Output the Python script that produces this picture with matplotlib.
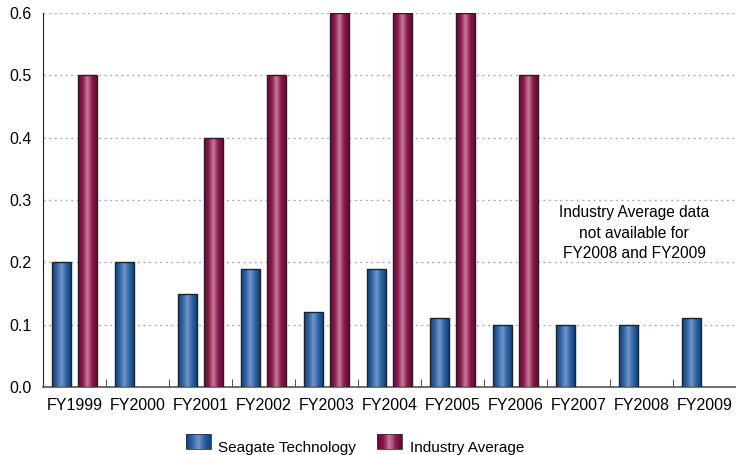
import numpy as np
import matplotlib
matplotlib.use("Agg")
import matplotlib.pyplot as plt
from matplotlib.patches import Rectangle
from matplotlib.legend_handler import HandlerBase
from matplotlib.colors import LinearSegmentedColormap

years = ["FY1999", "FY2000", "FY2001", "FY2002", "FY2003", "FY2004",
         "FY2005", "FY2006", "FY2007", "FY2008", "FY2009"]
seagate = [0.20, 0.20, 0.15, 0.19, 0.12, 0.19, 0.11, 0.10, 0.10, 0.10, 0.11]
industry = [0.50, None, 0.40, 0.50, 0.60, 0.60, 0.60, 0.50, None, None, None]

plt.rcParams['font.family'] = ['Liberation Sans', 'DejaVu Sans']

blue_cm = LinearSegmentedColormap.from_list(
    "b", ["#0a4683", "#2f64a3", "#7596c8", "#2f64a3", "#0a4683"])
red_cm = LinearSegmentedColormap.from_list(
    "r", ["#6e0535", "#8a1a4c", "#c87f9c", "#8a1a4c", "#6e0535"])
grad = np.linspace(0, 1, 64).reshape(1, -1)

fig = plt.figure(figsize=(7.36, 4.55), dpi=100)
ax = fig.add_axes([43 / 736, 1 - 387 / 455, 1 - 43 / 736, 374 / 455])

w = 0.30
off = 0.20


def grad_bar(x, h, cmap):
    r = Rectangle((x - w / 2, 0), w, h, facecolor="none",
                  edgecolor="#222222", lw=1.0, zorder=4)
    ax.add_patch(r)
    im = ax.imshow(grad, cmap=cmap, aspect="auto",
                   extent=(x - w / 2, x + w / 2, 0, h), zorder=3)
    im.set_clip_path(r)


for i in range(len(years)):
    grad_bar(i - off, seagate[i], blue_cm)
    if industry[i] is not None:
        grad_bar(i + off, industry[i], red_cm)

ax.set_xlim(-0.5, len(years) - 0.5)
ax.set_ylim(0, 0.6)
ax.set_xticks(range(len(years)))
ax.set_xticklabels(years, fontsize=11.5)
ax.set_xticks(np.arange(0.5, len(years) - 1, 1), minor=True)
ax.tick_params(axis="x", which="major", length=0, pad=8)
ax.tick_params(axis="x", which="minor", direction="in", length=6,
               color="#333333")
ax.set_yticks(np.arange(0, 0.61, 0.1))
ax.set_yticklabels(["%.1f" % v for v in np.arange(0, 0.61, 0.1)], fontsize=11.5)
ax.tick_params(axis="y", length=0, pad=8)
for v in np.arange(0.1, 0.61, 0.1):
    ax.axhline(v, color="#b0b0b0", lw=1, ls=(0, (1.5, 2.5)), zorder=1)
for s in ["top", "right"]:
    ax.spines[s].set_visible(False)
ax.spines["left"].set_color("#222222")
ax.spines["bottom"].set_color("#555555")
ax.spines["bottom"].set_linewidth(1.2)

ax.text(8.88, 0.247, "Industry Average data\nnot available for\nFY2008 and FY2009",
        ha="center", va="center", fontsize=11.2, linespacing=1.45, zorder=5)


class HandlerGrad(HandlerBase):
    def __init__(self, cmap):
        super().__init__()
        self.cmap = cmap

    def create_artists(self, legend, orig_handle, xd, yd, width, height,
                       fontsize, trans):
        arts = []
        n = 16
        for k in range(n):
            arts.append(Rectangle((xd + width * k / n, yd), width / n + 0.3,
                                  height, facecolor=self.cmap((k + 0.5) / n),
                                  edgecolor="none", transform=trans))
        arts.append(Rectangle((xd, yd), width, height, facecolor="none",
                              edgecolor="#333333", lw=0.6, transform=trans))
        return arts


h1 = Rectangle((0, 0), 1, 1)
h2 = Rectangle((0, 0), 1, 1)
fig.legend([h1, h2], ["Seagate Technology", "Industry Average"],
           loc="center", bbox_to_anchor=(355 / 736, 1 - 447 / 455), ncol=2,
           frameon=False, fontsize=11, handlelength=1.6, handleheight=1.2,
           columnspacing=1.4, handletextpad=0.5,
           handler_map={h1: HandlerGrad(blue_cm), h2: HandlerGrad(red_cm)})

fig.savefig("out.png", dpi=100)
